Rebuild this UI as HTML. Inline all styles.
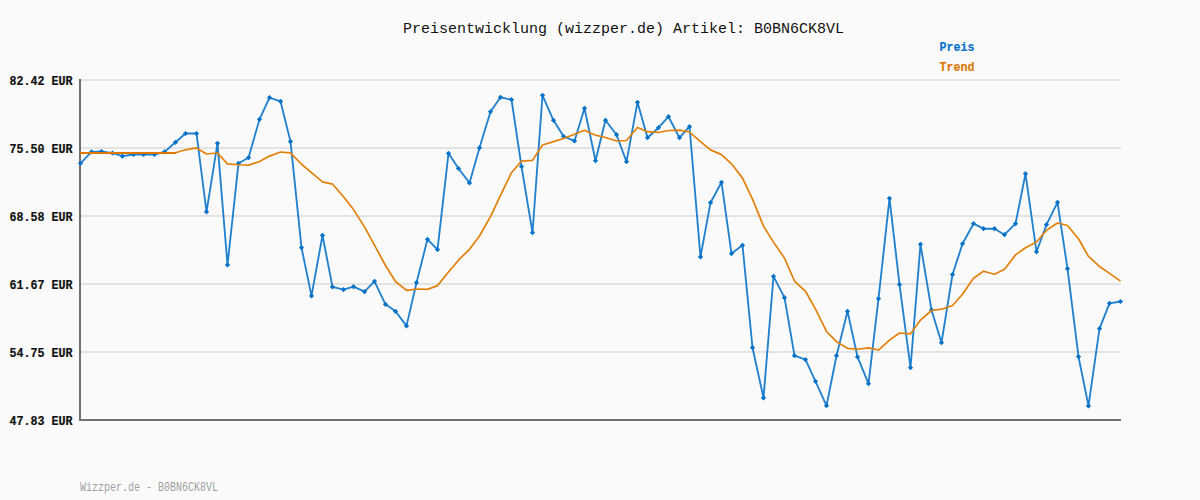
<!DOCTYPE html>
<html><head><meta charset="utf-8"><style>
html,body{margin:0;padding:0;}
body{width:1200px;height:500px;background:#fafafa;position:relative;overflow:hidden;font-family:"Liberation Mono",monospace;}
.t{position:absolute;left:403px;top:20px;font-size:15px;line-height:20px;color:#111;white-space:pre;}
.yl{position:absolute;left:9.5px;font-size:11.67px;line-height:18px;font-weight:bold;color:#111;-webkit-text-stroke:0.2px #111;white-space:pre;transform:scaleY(1.12);transform-origin:0 6px;}
.lg{position:absolute;left:939.5px;font-size:11.67px;line-height:18px;font-weight:bold;white-space:pre;-webkit-text-stroke:0.15px currentColor;transform:scaleY(1.14);transform-origin:0 6px;}
.ft{position:absolute;left:80px;top:481px;font-size:10px;line-height:16px;color:#a0a0a0;white-space:pre;transform:scaleY(1.2);transform-origin:0 11px;}
svg{position:absolute;left:0;top:0;}
</style></head><body>
<svg width="1200" height="500" viewBox="0 0 1200 500">
<rect x="81" y="79" width="1040" height="2" fill="#e3e3e3"/><rect x="81" y="147" width="1040" height="2" fill="#e3e3e3"/><rect x="81" y="215" width="1040" height="2" fill="#e3e3e3"/><rect x="81" y="283" width="1040" height="2" fill="#e3e3e3"/><rect x="81" y="351" width="1040" height="2" fill="#e3e3e3"/>
<rect x="79" y="79" width="2" height="342" fill="#707070"/>
<rect x="79" y="419" width="1042" height="2" fill="#707070"/>
<polyline points="80.50,163.30 91.50,151.90 101.50,151.50 112.50,153.10 122.50,156.20 133.50,154.50 143.50,154.50 154.50,154.50 164.50,151.90 175.50,142.30 185.50,133.50 196.50,133.50 206.50,211.80 217.50,143.30 227.50,264.90 238.50,163.30 248.50,157.70 259.50,119.30 269.50,97.60 280.50,101.30 290.50,141.60 301.50,247.70 311.50,295.90 322.50,235.30 332.50,286.90 343.50,289.70 353.50,286.70 364.50,291.70 374.50,281.30 385.50,304.30 395.50,311.30 406.50,325.90 416.50,282.70 427.50,239.30 437.50,249.60 448.50,153.30 458.50,168.50 469.50,182.90 479.50,147.80 490.50,111.70 500.50,97.30 511.50,99.70 521.50,166.50 532.50,232.70 542.50,95.30 553.50,120.30 563.50,136.30 574.50,140.90 584.50,108.30 595.50,160.70 605.50,120.30 616.50,134.70 626.50,161.70 637.50,102.30 647.50,137.70 658.50,127.70 668.50,116.70 679.50,137.70 689.50,126.70 700.50,256.90 710.50,202.70 721.50,182.30 731.50,253.60 742.50,245.30 752.50,347.70 763.50,397.90 773.50,276.30 784.50,297.70 794.50,355.70 805.50,359.70 815.50,381.30 826.50,405.70 836.50,355.70 847.50,311.30 857.50,356.90 868.50,383.70 878.50,298.70 889.50,198.30 899.50,284.50 910.50,367.70 920.50,244.30 931.50,309.90 941.50,342.70 952.50,274.50 962.50,243.80 973.50,223.70 983.50,228.70 994.50,228.70 1004.50,234.70 1015.50,223.70 1025.50,173.70 1036.50,251.80 1046.50,224.70 1057.50,202.30 1067.50,268.70 1078.50,356.70 1088.50,405.90 1099.50,328.70 1109.50,303.30 1120.50,301.50" fill="none" stroke="#2181ce" stroke-width="1.85" stroke-linejoin="round"/>
<path d="M80.50 160.70L83.10 163.30L80.50 165.90L77.90 163.30ZM91.50 149.30L94.10 151.90L91.50 154.50L88.90 151.90ZM101.50 148.90L104.10 151.50L101.50 154.10L98.90 151.50ZM112.50 150.50L115.10 153.10L112.50 155.70L109.90 153.10ZM122.50 153.60L125.10 156.20L122.50 158.80L119.90 156.20ZM133.50 151.90L136.10 154.50L133.50 157.10L130.90 154.50ZM143.50 151.90L146.10 154.50L143.50 157.10L140.90 154.50ZM154.50 151.90L157.10 154.50L154.50 157.10L151.90 154.50ZM164.50 149.30L167.10 151.90L164.50 154.50L161.90 151.90ZM175.50 139.70L178.10 142.30L175.50 144.90L172.90 142.30ZM185.50 130.90L188.10 133.50L185.50 136.10L182.90 133.50ZM196.50 130.90L199.10 133.50L196.50 136.10L193.90 133.50ZM206.50 209.20L209.10 211.80L206.50 214.40L203.90 211.80ZM217.50 140.70L220.10 143.30L217.50 145.90L214.90 143.30ZM227.50 262.30L230.10 264.90L227.50 267.50L224.90 264.90ZM238.50 160.70L241.10 163.30L238.50 165.90L235.90 163.30ZM248.50 155.10L251.10 157.70L248.50 160.30L245.90 157.70ZM259.50 116.70L262.10 119.30L259.50 121.90L256.90 119.30ZM269.50 95.00L272.10 97.60L269.50 100.20L266.90 97.60ZM280.50 98.70L283.10 101.30L280.50 103.90L277.90 101.30ZM290.50 139.00L293.10 141.60L290.50 144.20L287.90 141.60ZM301.50 245.10L304.10 247.70L301.50 250.30L298.90 247.70ZM311.50 293.30L314.10 295.90L311.50 298.50L308.90 295.90ZM322.50 232.70L325.10 235.30L322.50 237.90L319.90 235.30ZM332.50 284.30L335.10 286.90L332.50 289.50L329.90 286.90ZM343.50 287.10L346.10 289.70L343.50 292.30L340.90 289.70ZM353.50 284.10L356.10 286.70L353.50 289.30L350.90 286.70ZM364.50 289.10L367.10 291.70L364.50 294.30L361.90 291.70ZM374.50 278.70L377.10 281.30L374.50 283.90L371.90 281.30ZM385.50 301.70L388.10 304.30L385.50 306.90L382.90 304.30ZM395.50 308.70L398.10 311.30L395.50 313.90L392.90 311.30ZM406.50 323.30L409.10 325.90L406.50 328.50L403.90 325.90ZM416.50 280.10L419.10 282.70L416.50 285.30L413.90 282.70ZM427.50 236.70L430.10 239.30L427.50 241.90L424.90 239.30ZM437.50 247.00L440.10 249.60L437.50 252.20L434.90 249.60ZM448.50 150.70L451.10 153.30L448.50 155.90L445.90 153.30ZM458.50 165.90L461.10 168.50L458.50 171.10L455.90 168.50ZM469.50 180.30L472.10 182.90L469.50 185.50L466.90 182.90ZM479.50 145.20L482.10 147.80L479.50 150.40L476.90 147.80ZM490.50 109.10L493.10 111.70L490.50 114.30L487.90 111.70ZM500.50 94.70L503.10 97.30L500.50 99.90L497.90 97.30ZM511.50 97.10L514.10 99.70L511.50 102.30L508.90 99.70ZM521.50 163.90L524.10 166.50L521.50 169.10L518.90 166.50ZM532.50 230.10L535.10 232.70L532.50 235.30L529.90 232.70ZM542.50 92.70L545.10 95.30L542.50 97.90L539.90 95.30ZM553.50 117.70L556.10 120.30L553.50 122.90L550.90 120.30ZM563.50 133.70L566.10 136.30L563.50 138.90L560.90 136.30ZM574.50 138.30L577.10 140.90L574.50 143.50L571.90 140.90ZM584.50 105.70L587.10 108.30L584.50 110.90L581.90 108.30ZM595.50 158.10L598.10 160.70L595.50 163.30L592.90 160.70ZM605.50 117.70L608.10 120.30L605.50 122.90L602.90 120.30ZM616.50 132.10L619.10 134.70L616.50 137.30L613.90 134.70ZM626.50 159.10L629.10 161.70L626.50 164.30L623.90 161.70ZM637.50 99.70L640.10 102.30L637.50 104.90L634.90 102.30ZM647.50 135.10L650.10 137.70L647.50 140.30L644.90 137.70ZM658.50 125.10L661.10 127.70L658.50 130.30L655.90 127.70ZM668.50 114.10L671.10 116.70L668.50 119.30L665.90 116.70ZM679.50 135.10L682.10 137.70L679.50 140.30L676.90 137.70ZM689.50 124.10L692.10 126.70L689.50 129.30L686.90 126.70ZM700.50 254.30L703.10 256.90L700.50 259.50L697.90 256.90ZM710.50 200.10L713.10 202.70L710.50 205.30L707.90 202.70ZM721.50 179.70L724.10 182.30L721.50 184.90L718.90 182.30ZM731.50 251.00L734.10 253.60L731.50 256.20L728.90 253.60ZM742.50 242.70L745.10 245.30L742.50 247.90L739.90 245.30ZM752.50 345.10L755.10 347.70L752.50 350.30L749.90 347.70ZM763.50 395.30L766.10 397.90L763.50 400.50L760.90 397.90ZM773.50 273.70L776.10 276.30L773.50 278.90L770.90 276.30ZM784.50 295.10L787.10 297.70L784.50 300.30L781.90 297.70ZM794.50 353.10L797.10 355.70L794.50 358.30L791.90 355.70ZM805.50 357.10L808.10 359.70L805.50 362.30L802.90 359.70ZM815.50 378.70L818.10 381.30L815.50 383.90L812.90 381.30ZM826.50 403.10L829.10 405.70L826.50 408.30L823.90 405.70ZM836.50 353.10L839.10 355.70L836.50 358.30L833.90 355.70ZM847.50 308.70L850.10 311.30L847.50 313.90L844.90 311.30ZM857.50 354.30L860.10 356.90L857.50 359.50L854.90 356.90ZM868.50 381.10L871.10 383.70L868.50 386.30L865.90 383.70ZM878.50 296.10L881.10 298.70L878.50 301.30L875.90 298.70ZM889.50 195.70L892.10 198.30L889.50 200.90L886.90 198.30ZM899.50 281.90L902.10 284.50L899.50 287.10L896.90 284.50ZM910.50 365.10L913.10 367.70L910.50 370.30L907.90 367.70ZM920.50 241.70L923.10 244.30L920.50 246.90L917.90 244.30ZM931.50 307.30L934.10 309.90L931.50 312.50L928.90 309.90ZM941.50 340.10L944.10 342.70L941.50 345.30L938.90 342.70ZM952.50 271.90L955.10 274.50L952.50 277.10L949.90 274.50ZM962.50 241.20L965.10 243.80L962.50 246.40L959.90 243.80ZM973.50 221.10L976.10 223.70L973.50 226.30L970.90 223.70ZM983.50 226.10L986.10 228.70L983.50 231.30L980.90 228.70ZM994.50 226.10L997.10 228.70L994.50 231.30L991.90 228.70ZM1004.50 232.10L1007.10 234.70L1004.50 237.30L1001.90 234.70ZM1015.50 221.10L1018.10 223.70L1015.50 226.30L1012.90 223.70ZM1025.50 171.10L1028.10 173.70L1025.50 176.30L1022.90 173.70ZM1036.50 249.20L1039.10 251.80L1036.50 254.40L1033.90 251.80ZM1046.50 222.10L1049.10 224.70L1046.50 227.30L1043.90 224.70ZM1057.50 199.70L1060.10 202.30L1057.50 204.90L1054.90 202.30ZM1067.50 266.10L1070.10 268.70L1067.50 271.30L1064.90 268.70ZM1078.50 354.10L1081.10 356.70L1078.50 359.30L1075.90 356.70ZM1088.50 403.30L1091.10 405.90L1088.50 408.50L1085.90 405.90ZM1099.50 326.10L1102.10 328.70L1099.50 331.30L1096.90 328.70ZM1109.50 300.70L1112.10 303.30L1109.50 305.90L1106.90 303.30ZM1120.50 298.90L1123.10 301.50L1120.50 304.10L1117.90 301.50Z" fill="#0672c8"/>
<polyline points="80.50,152.77 91.50,152.77 101.50,152.77 112.50,152.77 122.50,152.77 133.50,152.77 143.50,152.77 154.50,152.77 164.50,152.77 175.50,152.77 185.50,149.79 196.50,147.95 206.50,153.98 217.50,153.00 227.50,163.87 238.50,164.75 248.50,165.07 259.50,161.55 269.50,156.12 280.50,152.02 290.50,152.83 301.50,164.25 311.50,172.66 322.50,181.86 332.50,184.06 343.50,196.70 353.50,209.60 364.50,226.84 374.50,245.21 385.50,265.51 395.50,281.48 406.50,290.30 416.50,288.98 427.50,289.38 437.50,285.65 448.50,272.01 458.50,260.19 469.50,249.31 479.50,235.96 490.50,216.70 500.50,195.30 511.50,172.68 521.50,161.06 532.50,160.40 542.50,144.97 553.50,141.67 563.50,138.45 574.50,134.25 584.50,130.30 595.50,135.20 605.50,137.50 616.50,141.00 626.50,140.52 637.50,127.48 647.50,131.72 658.50,132.46 668.50,130.50 679.50,130.18 689.50,132.02 700.50,141.64 710.50,149.88 721.50,154.64 731.50,163.83 742.50,178.13 752.50,199.13 763.50,226.15 773.50,242.11 784.50,258.11 794.50,281.01 805.50,291.29 815.50,309.15 826.50,331.49 836.50,341.70 847.50,348.30 857.50,349.22 868.50,347.80 878.50,350.04 889.50,340.10 899.50,332.98 910.50,333.78 920.50,320.08 931.50,310.50 941.50,309.20 952.50,305.52 962.50,294.21 973.50,278.21 983.50,271.21 994.50,274.25 1004.50,269.27 1015.50,254.87 1025.50,247.81 1036.50,242.00 1046.50,230.20 1057.50,222.98 1067.50,225.47 1078.50,238.77 1088.50,256.49 1099.50,266.49 1109.50,273.35 1120.50,281.13" fill="none" stroke="#e2800a" stroke-width="1.7" stroke-linejoin="round"/>
<rect x="80" y="152" width="95.50" height="2" fill="#e07800"/>
</svg>
<div class="t">Preisentwicklung (wizzper.de) Artikel: B0BN6CK8VL</div>
<div class="yl" style="top:72px">82.42 EUR</div><div class="yl" style="top:140px">75.50 EUR</div><div class="yl" style="top:208px">68.58 EUR</div><div class="yl" style="top:276px">61.67 EUR</div><div class="yl" style="top:344px">54.75 EUR</div><div class="yl" style="top:412px">47.83 EUR</div>
<div class="lg" style="top:38px;color:#0a70c8">Preis</div>
<div class="lg" style="top:58px;color:#da7806">Trend</div>
<div class="ft">Wizzper.de - B0BN6CK8VL</div>
</body></html>
